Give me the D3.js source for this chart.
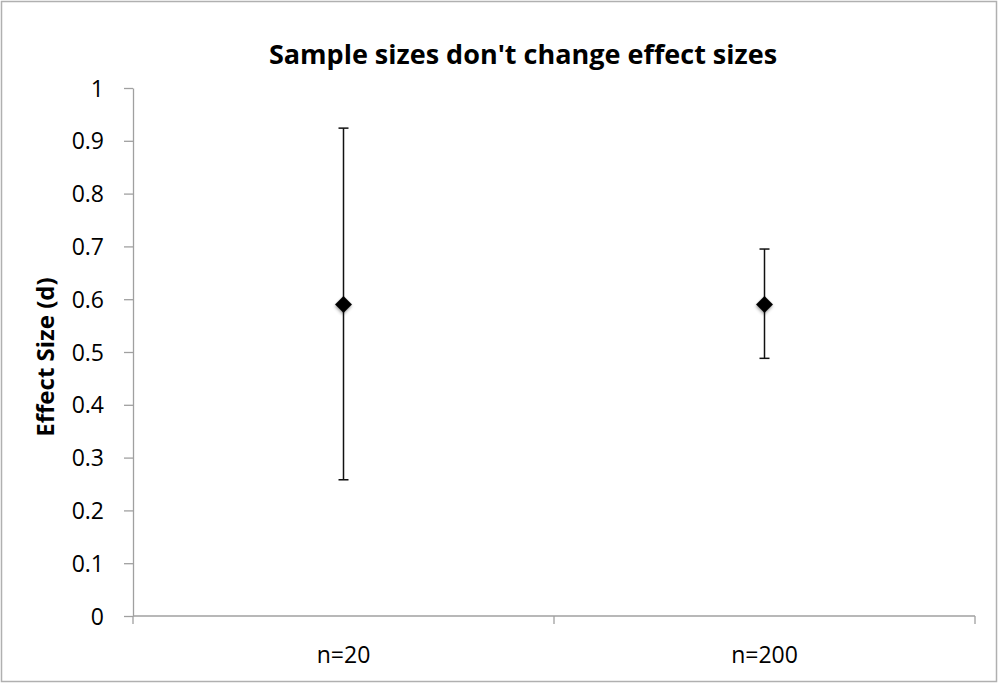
<!DOCTYPE html>
<html>
<head>
<meta charset="utf-8">
<script src="https://cdn.jsdelivr.net/npm/d3@7"></script>
<style>
  html, body { margin: 0; padding: 0; background: #fff; }
  svg { display: block; }
  text { font-family: "Open Sans", "Noto Sans", sans-serif; fill: #000; }
</style>
</head>
<body>
<svg id="chart" width="1000" height="684"></svg>
<script>
const categories = ["n=20", "n=200"];
const effectSize = [0.59, 0.59];
const upper = [0.924, 0.695];
const lower = [0.258, 0.488];
const yTicks = [0, 0.1, 0.2, 0.3, 0.4, 0.5, 0.6, 0.7, 0.8, 0.9, 1];
const yTickLabels = ["0", "0.1", "0.2", "0.3", "0.4", "0.5", "0.6", "0.7", "0.8", "0.9", "1"];
const title = "Sample sizes don't change effect sizes";
const yLabel = "Effect Size (d)";

const svg = d3.select("#chart");
const W = 1000, H = 684;
const plot = { left: 133, right: 975, top: 88, bottom: 616 };
const axisColor = "#a0a0a0";

// outer border
svg.append("rect")
  .attr("x", 1.5).attr("y", 1.5)
  .attr("width", W - 5).attr("height", H - 4)
  .attr("fill", "#fff").attr("stroke", "#b0b0b0").attr("stroke-width", 1.5);

const defs = svg.append("defs");
const f = defs.append("filter").attr("id", "shadow").attr("x", "-50%").attr("y", "-50%").attr("width", "200%").attr("height", "200%");
f.append("feDropShadow").attr("dx", 1).attr("dy", 1.5).attr("stdDeviation", 1.5)
  .attr("flood-color", "#000").attr("flood-opacity", 0.35);

const x = d3.scaleBand().domain(categories).range([plot.left, plot.right]).padding(0);
const y = d3.scaleLinear().domain([0, 1]).range([plot.bottom, plot.top]);

// y axis
const yAxis = svg.append("g")
  .attr("transform", `translate(${plot.left},0)`)
  .call(d3.axisLeft(y).tickValues(yTicks).tickSize(9).tickSizeOuter(0)
    .tickFormat((d, i) => yTickLabels[i]).tickPadding(20));
yAxis.select(".domain").attr("stroke", axisColor).attr("stroke-width", 1.3);
yAxis.selectAll(".tick line").attr("stroke", axisColor).attr("stroke-width", 1.3);
yAxis.selectAll(".tick text").style("font-size", "23px").attr("fill", "#000")
  .attr("dy", "0.35em");

// x axis
const xg = svg.append("g").attr("transform", `translate(0,${plot.bottom})`);
xg.append("line").attr("x1", plot.left).attr("x2", plot.right)
  .attr("stroke", axisColor).attr("stroke-width", 1.3);
const boundaries = categories.map(c => x(c)).concat([x(categories[categories.length - 1]) + x.bandwidth()]);
xg.selectAll(".xt").data(boundaries).join("line")
  .attr("x1", d => d).attr("x2", d => d).attr("y1", 0).attr("y2", 8)
  .attr("stroke", axisColor).attr("stroke-width", 1.3);
xg.selectAll(".xl").data(categories).join("text")
  .attr("x", d => x(d) + x.bandwidth() / 2)
  .attr("y", 47)
  .attr("text-anchor", "middle")
  .style("font-size", "23px")
  .text(d => d);

// title
svg.append("text")
  .attr("x", 523).attr("y", 64)
  .attr("text-anchor", "middle")
  .style("font-size", "27px").style("font-weight", "bold")
  .text(title);

// y label
svg.append("text")
  .attr("transform", `translate(54,357) rotate(-90)`)
  .attr("text-anchor", "middle")
  .style("font-size", "24px").style("font-weight", "bold")
  .text(yLabel);

// error bars
const data = categories.map((c, i) => ({ c, v: effectSize[i], hi: upper[i], lo: lower[i] }));
const cx = d => x(d.c) + x.bandwidth() / 2;
const eb = svg.append("g");
eb.selectAll(".stem").data(data).join("line")
  .attr("x1", cx).attr("x2", cx)
  .attr("y1", d => y(d.hi)).attr("y2", d => y(d.lo))
  .attr("stroke", "#111").attr("stroke-width", 1.5);
eb.selectAll(".capT").data(data).join("line")
  .attr("x1", d => cx(d) - 5).attr("x2", d => cx(d) + 5)
  .attr("y1", d => y(d.hi)).attr("y2", d => y(d.hi))
  .attr("stroke", "#111").attr("stroke-width", 1.5);
eb.selectAll(".capB").data(data).join("line")
  .attr("x1", d => cx(d) - 5).attr("x2", d => cx(d) + 5)
  .attr("y1", d => y(d.lo)).attr("y2", d => y(d.lo))
  .attr("stroke", "#111").attr("stroke-width", 1.5);

// markers
svg.append("g").selectAll("path").data(data).join("path")
  .attr("d", d3.symbol(d3.symbolSquare, 144))
  .attr("transform", d => `translate(${cx(d)},${y(d.v)}) rotate(45)`)
  .attr("fill", "#000")
  .attr("filter", "url(#shadow)");
</script>
</body>
</html>
